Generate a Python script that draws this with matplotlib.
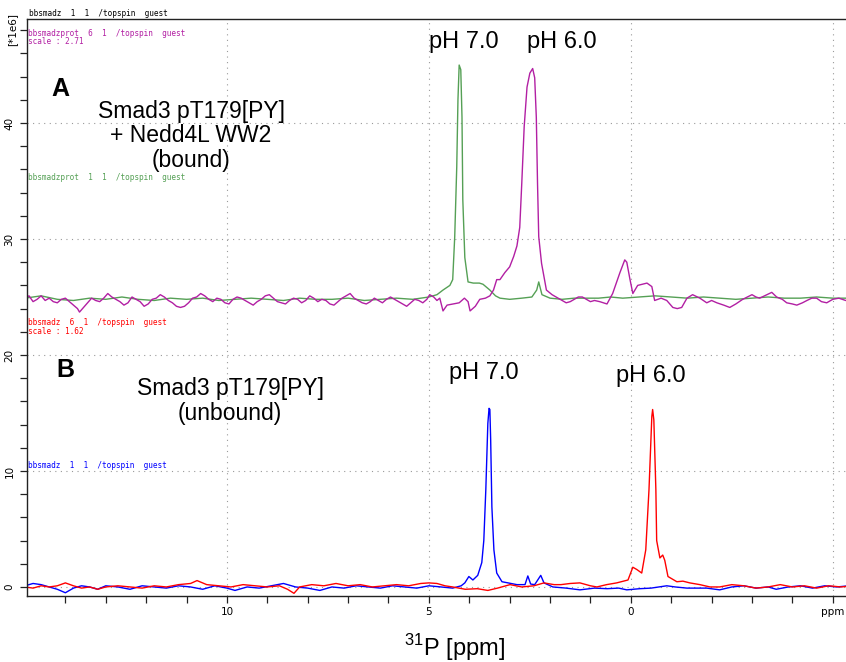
import matplotlib
matplotlib.use("Agg")
import matplotlib.pyplot as plt
from matplotlib.ticker import MultipleLocator, FixedLocator

plt.rcParams['mathtext.fontset'] = 'custom'
plt.rcParams['mathtext.rm'] = 'Liberation Sans'

# Smad3 pT179[PY] + Nedd4L WW2, pH 7.0 (green trace)
boundPh7Ppm = [15.0, 14.6, 14.2, 13.8, 13.4, 13.0, 12.6, 12.2, 11.8, 11.4, 11.0, 10.6, 10.2, 9.8, 9.4, 9.0,
               8.6, 8.2, 7.8, 7.4, 7.0, 6.6, 6.2, 5.8, 5.4, 5.0, 4.8, 4.65, 4.48, 4.41, 4.36, 4.31, 4.28,
               4.25, 4.21, 4.18, 4.16, 4.11, 4.03, 3.9, 3.75, 3.66, 3.49, 3.35, 3.24, 3.0, 2.7, 2.45, 2.33,
               2.28, 2.2, 2.0, 1.7, 1.4, 1.1, 0.8, 0.5, 0.2, -0.2, -0.6, -1.0, -1.4, -1.8, -2.2, -2.6, -3.0,
               -3.4, -3.8, -4.2, -4.6, -5.0, -5.4, -5.7]
boundPh7 = [24.9, 25.1, 24.8, 24.7, 24.9, 24.8, 25.0, 24.8, 24.7, 24.9, 24.8, 24.9, 24.7, 24.8, 24.9, 24.8,
            24.7, 24.9, 24.8, 24.8, 24.9, 24.7, 24.8, 24.9, 24.8, 25.0, 25.2, 25.6, 26.0, 26.5, 30.2, 36.2, 42.0,
            45.0, 44.6, 40.5, 33.4, 28.4, 26.3, 26.2, 26.2, 26.1, 25.6, 25.1, 24.9, 24.8, 24.9, 25.0, 25.6,
            26.3, 25.2, 24.9, 24.8, 24.9, 24.9, 24.9, 25.0, 24.9, 25.0, 25.1, 25.0, 24.9, 25.0, 24.9, 24.8, 24.9,
            25.0, 24.9, 24.9, 25.0, 24.9, 24.9, 24.9]

# Smad3 pT179[PY] + Nedd4L WW2, pH 6.0 (purple trace)
boundPh6Ppm = [15.0, 14.9, 14.8, 14.7, 14.6, 14.5, 14.4, 14.3, 14.2, 14.1, 14.0, 13.9, 13.8, 13.7, 13.65, 13.55,
               13.45, 13.35, 13.25, 13.15, 13.05, 12.95, 12.85, 12.75, 12.65, 12.55, 12.45, 12.35, 12.25, 12.15,
               12.05, 11.95, 11.85, 11.75, 11.65, 11.55, 11.45, 11.35, 11.25, 11.15, 11.05, 10.95, 10.85, 10.75,
               10.65, 10.55, 10.45, 10.35, 10.25, 10.15, 10.05, 9.95, 9.85, 9.75, 9.65, 9.55, 9.45, 9.35, 9.25,
               9.15, 9.05, 8.95, 8.85, 8.75, 8.65, 8.55, 8.45, 8.35, 8.25, 8.15, 8.05, 7.95, 7.85, 7.75, 7.65,
               7.55, 7.45, 7.35, 7.25, 7.15, 7.05, 6.95, 6.85, 6.75, 6.65, 6.55, 6.45, 6.35, 6.25, 6.15, 6.05,
               5.95, 5.85, 5.75, 5.65, 5.55, 5.45, 5.35, 5.25, 5.15, 5.05, 4.98,
               4.88, 4.8, 4.73, 4.65, 4.55, 4.4, 4.25, 4.12, 4.03, 3.98, 3.85, 3.74, 3.6, 3.49, 3.40, 3.32, 3.24,
               3.12, 3.0, 2.90, 2.82, 2.75, 2.70, 2.64, 2.57, 2.50, 2.43, 2.38, 2.34, 2.31, 2.28, 2.21, 2.09,
               1.95, 1.8, 1.7, 1.6, 1.5, 1.4, 1.3, 1.2, 1.1, 1.0, 0.9, 0.77, 0.59, 0.45, 0.27, 0.15, 0.10, 0.02,
               -0.05, -0.17, -0.40, -0.52, -0.59, -0.75, -0.89, -1.04, -1.15, -1.26, -1.39, -1.53, -1.71, -1.88,
               -2.0, -2.13, -2.3, -2.45, -2.6, -2.77, -3.0, -3.1, -3.19, -3.37, -3.49, -3.61, -3.75, -3.86,
               -4.0, -4.11, -4.25, -4.36, -4.48, -4.60, -4.72, -4.85, -5.0, -5.15, -5.32, -5.5, -5.7]
boundPh6 = [24.9, 25.1, 24.6, 24.8, 25.1, 24.7, 24.9, 24.6, 24.5, 24.8, 24.9, 24.6, 24.3, 24.0, 23.7, 24.1,
            24.5, 24.9, 24.7, 24.6, 24.9, 25.3, 25.0, 24.8, 24.6, 24.3, 24.5, 25.0, 24.8, 24.6,
            24.2, 24.4, 24.8, 24.9, 25.2, 25.0, 24.7, 24.5, 24.2, 24.1, 24.2, 24.5, 24.9, 25.0,
            25.3, 25.1, 24.8, 24.6, 24.9, 24.8, 24.5, 24.4, 24.8, 25.0, 24.9, 24.7, 24.5, 24.3, 24.6,
            24.8, 25.1, 25.2, 24.9, 24.6, 24.5, 24.4, 24.7, 24.9, 24.8, 24.5, 24.7, 25.1, 24.9, 24.6, 24.8,
            24.7, 24.4, 24.3, 24.6, 24.9, 25.1, 25.3, 24.9, 24.7, 24.5, 24.4, 24.6, 24.9, 24.7, 24.5, 24.8,
            25.0, 24.8, 24.6, 24.4, 24.2, 24.5, 24.8, 24.7, 24.5, 24.8, 25.2,
            25.0, 24.7, 24.9, 23.8, 24.3, 24.4, 24.5, 24.9, 24.6, 23.8, 24.2, 24.8, 24.9, 25.1, 25.6, 26.5, 26.5,
            27.1, 27.6, 28.5, 29.4, 31.0, 34.8, 39.7, 43.1, 44.3, 44.7, 43.9, 40.5, 34.8, 30.2, 27.9, 25.6,
            25.2, 24.9, 24.7, 24.5, 24.6, 24.8, 25.0, 25.0, 24.8, 24.6, 24.7, 24.6, 24.4, 25.3, 27.1, 28.2, 28.0, 26.5,
            25.3, 26.0, 26.2, 25.9, 24.7, 24.9, 24.7, 24.1, 24.0, 24.1, 24.9, 25.2, 24.9, 24.5,
            24.7, 24.5, 24.3, 24.1, 24.4, 24.8, 25.2, 25.0, 24.9, 25.2, 25.4, 25.0, 24.8, 24.5,
            24.4, 24.3, 24.5, 24.7, 24.9, 24.9, 24.6, 24.5, 24.8, 24.9, 24.7, 24.8, 24.8]

# Smad3 pT179[PY] alone, pH 7.0 (blue trace)
unboundPh7Ppm = [15.0, 14.8, 14.6, 14.4, 14.2, 14.0, 13.8, 13.6, 13.4, 13.2, 13.0, 12.7, 12.4, 12.1, 11.8, 11.5,
                 11.2, 10.9, 10.6, 10.3, 10.0, 9.8, 9.5, 9.2, 8.9, 8.6, 8.3, 8.0, 7.7, 7.4, 7.1, 6.8, 6.5, 6.2,
                 5.9, 5.6, 5.3, 5.0, 4.7, 4.41, 4.2, 4.11, 4.01, 3.91, 3.79, 3.69, 3.64, 3.59, 3.54, 3.51, 3.49,
                 3.47, 3.44, 3.39, 3.32, 3.19, 3.04, 2.82, 2.62, 2.55, 2.48, 2.38, 2.23, 2.15, 1.93, 1.6, 1.26,
                 0.9, 0.59, 0.3, 0.1, -0.22, -0.5, -0.89, -1.1, -1.39, -1.88, -2.2, -2.5, -2.8, -3.1, -3.4, -3.6,
                 -3.9, -4.2, -4.5, -4.8, -5.1, -5.4, -5.7]
unboundPh7 = [0.1, 0.3, 0.2, 0.0, -0.2, -0.5, -0.1, 0.1, 0.0, -0.2, 0.1, 0.0, -0.2, 0.1, 0.0, -0.1,
              0.1, 0.0, -0.2, 0.1, -0.1, -0.3, 0.0, -0.1, 0.1, 0.3, 0.0, -0.1, -0.3, 0.0, -0.1, 0.1, 0.0, -0.1,
              0.1, 0.0, -0.1, 0.1, 0.0, -0.1, 0.1, 0.35, 0.9, 0.6, 1.0, 2.1, 4.0, 8.4, 14.1, 15.4, 15.3,
              12.7, 6.9, 3.2, 1.2, 0.45, 0.35, 0.2, 0.2, 0.95, 0.25, 0.2, 1.0, 0.35, 0.0, -0.1, -0.25,
              -0.1, -0.15, -0.1, -0.25, -0.15, -0.1, 0.1, 0.0, -0.1, -0.1, -0.25, 0.0, 0.1, -0.1, 0.0, -0.2,
              0.0, 0.1, -0.1, 0.1, 0.0, 0.1, 0.0]

# Smad3 pT179[PY] alone, pH 6.0 (red trace)
unboundPh6Ppm = [15.0, 14.8, 14.6, 14.4, 14.2, 14.0, 13.8, 13.6, 13.4, 13.2, 13.0, 12.7, 12.4, 12.1, 11.8, 11.5,
                 11.2, 10.9, 10.74, 10.5, 10.2, 9.9, 9.6, 9.3, 9.0, 8.7, 8.5, 8.34, 8.2, 7.9, 7.6, 7.3, 7.0, 6.7,
                 6.4, 6.1, 5.8, 5.5, 5.2, 5.0, 4.8, 4.6, 4.41, 4.1, 3.8, 3.54, 3.3, 2.99, 2.7, 2.4, 2.15, 1.9,
                 1.73, 1.5, 1.26, 1.0, 0.84, 0.6, 0.35, 0.07, -0.05, -0.15, -0.27, -0.37, -0.45, -0.52, -0.54,
                 -0.57, -0.62, -0.64, -0.72, -0.79, -0.84, -0.92, -1.14, -1.29, -1.46, -1.71, -1.96, -2.2, -2.5,
                 -2.8, -3.1, -3.4, -3.7, -4.0, -4.3, -4.6, -4.9, -5.2, -5.5, -5.7]
unboundPh6 = [0.0, -0.1, 0.1, 0.0, 0.1, 0.35, 0.1, -0.1, 0.0, -0.2, 0.0, 0.1, 0.0, -0.1, 0.1, 0.0,
              0.2, 0.3, 0.55, 0.2, 0.1, 0.0, 0.2, 0.1, 0.0, 0.1, -0.2, -0.55, 0.0, 0.2, 0.1, 0.3, 0.1, 0.2,
              0.0, 0.1, 0.2, 0.1, 0.3, 0.35, 0.3, 0.1, 0.0, -0.2, -0.15, -0.3, -0.1, 0.2, 0.0, 0.1, 0.35, 0.2,
              0.2, 0.3, 0.35, 0.1, 0.0, 0.2, 0.35, 0.6, 1.7, 1.5, 1.2, 3.2, 8.4, 14.7, 15.3,
              14.4, 8.4, 4.0, 2.5, 2.75, 2.3, 0.9, 0.45, 0.5, 0.35, 0.2, 0.0, 0.0, 0.2,
              0.1, -0.1, 0.0, 0.2, 0.0, 0.1, -0.1, 0.1, 0.0, 0.1, 0.0]

xMajor = [10, 5, 0, -5]
xMajorLabels = ["10", "5", "0", "ppm"]
yMajor = [0, 10, 20, 30, 40]

purple = "#b21fa3"
green = "#55a055"
W, H = 846, 662

def figXY(px, py):
    # pixel position (from top-left) to figure fraction
    return px / W, 1 - py / H

fig = plt.figure(figsize=(W / 100, H / 100), dpi=100)
ax = fig.add_axes([27 / W, 1 - 596 / H, 830 / W, 577 / H])

ax.plot(boundPh7Ppm, boundPh7, color=green, lw=1.0)
ax.plot(boundPh6Ppm, boundPh6, color=purple, lw=1.0)
ax.plot(unboundPh7Ppm, unboundPh7, color="#0000ff", lw=1.0)
ax.plot(unboundPh6Ppm, unboundPh6, color="#ff0000", lw=1.0)

ax.set_xlim(14.95, -5.6)
ax.set_ylim(-0.78, 48.97)

ax.spines['right'].set_visible(False)
for side in ['left', 'bottom', 'top']:
    ax.spines[side].set_linewidth(1.0)
    ax.spines[side].set_color('#222222')

ax.xaxis.set_major_locator(FixedLocator(xMajor))
ax.set_xticklabels(xMajorLabels, fontsize=7.5, family='DejaVu Sans')
ax.xaxis.set_minor_locator(MultipleLocator(1))
ax.yaxis.set_major_locator(FixedLocator(yMajor))
ax.set_yticklabels([str(v) for v in yMajor], fontsize=7.5, rotation=90, va='center', family='DejaVu Sans')
ax.yaxis.set_minor_locator(MultipleLocator(2))
ax.tick_params(which='both', direction='out', length=5, width=0.9, color='#222222', top=False, right=False)
ax.tick_params(axis='x', pad=3)
ax.tick_params(axis='y', pad=4)
ax.grid(True, which='major', color='#9a9a9a', lw=0.8, linestyle=(0, (1, 4)))
ax.set_axisbelow(True)

fig.text(*figXY(12, 30), "[*1e6]", rotation=90, fontsize=7.5, ha='center', va='center', family='DejaVu Sans')

mono = dict(family='DejaVu Sans Mono', fontsize=5.6, ha='left', va='center')
fig.text(*figXY(29, 14), "bbsmadz  1  1  /topspin  guest", color='black', **mono)
fig.text(*figXY(28, 33), "bbsmadzprot  6  1  /topspin  guest", color=purple, **mono)
fig.text(*figXY(28, 42), "scale : 2.71", color=purple, **mono)
fig.text(*figXY(28, 178), "bbsmadzprot  1  1  /topspin  guest", color=green, **mono)
fig.text(*figXY(28, 322), "bbsmadz  6  1  /topspin  guest", color='#ff0000', **mono)
fig.text(*figXY(28, 331), "scale : 1.62", color='#ff0000', **mono)
fig.text(*figXY(28, 465), "bbsmadz  1  1  /topspin  guest", color='#0000ff', **mono)

label = dict(family='Liberation Sans', ha='center', va='center')
fig.text(*figXY(60, 89), "A", fontsize=18, fontweight='bold', **label)
fig.text(*figXY(191, 136), "Smad3 pT179[PY]\n+ Nedd4L WW2\n(bound)", fontsize=16.5, linespacing=1.1, **label)
fig.text(*figXY(464, 42), "pH 7.0", fontsize=17, **label)
fig.text(*figXY(562, 42), "pH 6.0", fontsize=17, **label)
fig.text(*figXY(65, 370), "B", fontsize=18, fontweight='bold', **label)
fig.text(*figXY(230, 401), "Smad3 pT179[PY]\n(unbound)", fontsize=16.5, linespacing=1.1, **label)
fig.text(*figXY(484, 373), "pH 7.0", fontsize=17, **label)
fig.text(*figXY(651, 376), "pH 6.0", fontsize=17, **label)
fig.text(*figXY(455, 648), r"$^{31}$P [ppm]", fontsize=17, **label)

fig.savefig("out.png", dpi=100)
